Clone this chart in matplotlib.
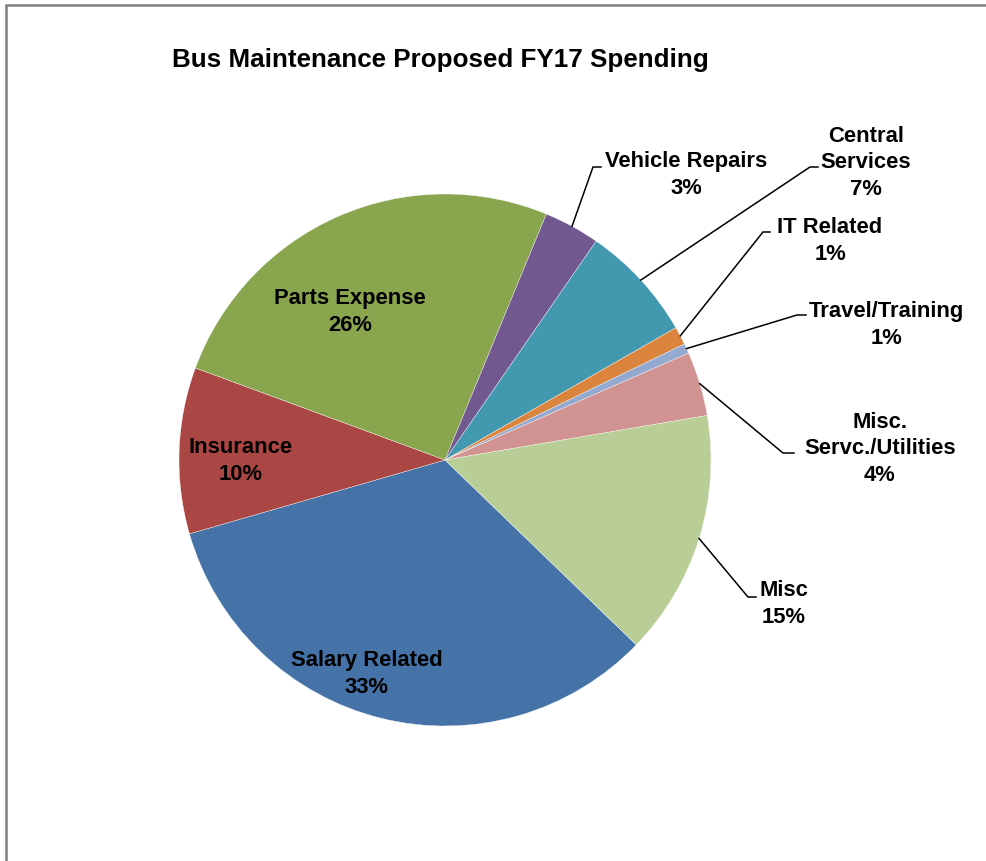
import numpy as np
import matplotlib
matplotlib.use("Agg")
import matplotlib.pyplot as plt

plt.rcParams['font.family'] = ['Liberation Sans', 'DejaVu Sans']

# Spending shares (percent of total), in clockwise drawing order
categories = ["Salary Related", "Insurance", "Parts Expense", "Vehicle Repairs",
              "Central\nServices", "IT Related", "Travel/Training",
              "Misc.\nServc./Utilities", "Misc"]
shares = [33.3, 10.1, 25.6, 3.4, 7.1, 1.1, 0.6, 3.9, 14.9]
colors = ["#4572A7", "#AA4643", "#89A54E", "#71588F", "#4198AF",
          "#DB843D", "#93A9CF", "#D19392", "#B9CD96"]
title = "Bus Maintenance Proposed FY17 Spending"

W, H = 986, 862
fig = plt.figure(figsize=(W / 100, H / 100), dpi=100)
ax = fig.add_axes([0, 0, 1, 1])

cx, cy, R = 445, H - 461, 266
wedges, _ = ax.pie(shares, colors=colors, startangle=-44, counterclock=False,
                   center=(cx, cy), radius=R,
                   wedgeprops=dict(edgecolor="white", linewidth=0.25))
ax.set_xlim(0, W)
ax.set_ylim(0, H)
ax.set_aspect("equal")
ax.axis("off")

fs = 15.8
ls = 1.32
# labels placed inside the slices
inside = {0: (367, 674), 1: (241, 461), 2: (350, 312)}
# labels outside the pie: (text centre, elbow point, end of horizontal tick)
outside = {
    3: ((686, 175), (593, 168), (601, 168)),
    4: ((866, 163), (810, 168), (818, 168)),
    5: ((830, 241), (763, 233), (770, 233)),
    6: ((886, 325), (797, 316), (806, 316)),
    7: ((880, 449), (783, 454), (794, 454)),
    8: ((784, 604), (748, 598), (756, 598)),
}

for i, (w, name, val) in enumerate(zip(wedges, categories, shares)):
    text = f"{name}\n{round(val):d}%"
    if i in inside:
        x, y = inside[i]
        ax.text(x, H - y, text, ha="center", va="center", fontsize=fs,
                fontweight="bold", linespacing=ls)
    else:
        (tx, ty), (ex, ey), (hx, hy) = outside[i]
        mid = np.deg2rad((w.theta1 + w.theta2) / 2)
        sx, sy = cx + R * np.cos(mid), cy + R * np.sin(mid)
        ax.plot([sx, ex, hx], [sy, H - ey, H - hy], color="black", lw=1.1,
                solid_joinstyle="miter")
        ax.text(tx, H - ty, text, ha="center", va="center", fontsize=fs,
                fontweight="bold", linespacing=ls)

ax.text(440, H - 60, title, ha="center", va="center", fontsize=18.7,
        fontweight="bold")

# chart-area border (left and top edges)
ax.plot([5.5, 5.5, W], [0, H - 5.5, H - 5.5], color="#7f7f7f", lw=1.8,
        solid_joinstyle="miter")

fig.savefig("out.png", dpi=100)
